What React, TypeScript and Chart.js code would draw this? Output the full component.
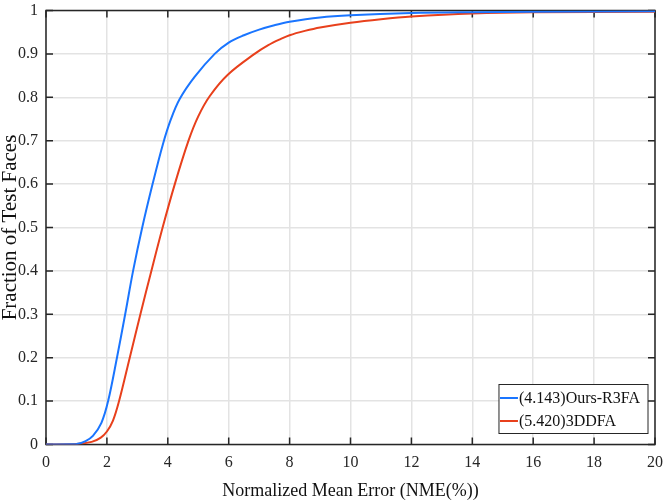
import React, { useEffect, useRef } from "react";
import { Chart, registerables } from "chart.js";

Chart.register(...registerables);

const seriesLabels = ["(4.143)Ours-R3FA", "(5.420)3DDFA"];
const seriesColors = ["#1a75ff", "#e8401c"];

const nmeOurs = [0, 1.0, 1.3, 1.54, 1.82, 2.04, 2.33, 2.6, 2.86, 3.16, 3.5, 3.84, 4.1, 4.39, 4.88, 5.54, 6.0, 6.5, 7.0, 7.5, 8.0, 9.0, 10.0, 12.0, 14.0, 16.0, 20.0];
const fracOurs = [0, 0.001, 0.008, 0.02, 0.05, 0.1, 0.2, 0.3, 0.4, 0.5, 0.6, 0.692, 0.749, 0.796, 0.847, 0.9, 0.926, 0.943, 0.956, 0.966, 0.974, 0.984, 0.989, 0.994, 0.996, 0.997, 0.998];

const nme3ddfa = [0, 1.0, 1.5, 1.8, 2.0, 2.2, 2.4, 2.75, 3.1, 3.46, 3.83, 4.23, 4.68, 5.0, 5.38, 5.97, 6.85, 7.3, 7.7, 8.0, 8.5, 9.0, 10.0, 11.0, 12.0, 14.0, 16.0, 20.0];
const frac3ddfa = [0, 0.001, 0.006, 0.016, 0.03, 0.055, 0.1, 0.2, 0.3, 0.4, 0.5, 0.6, 0.7, 0.756, 0.803, 0.852, 0.9, 0.92, 0.934, 0.943, 0.953, 0.961, 0.972, 0.98, 0.986, 0.993, 0.996, 0.997];

const xTitle = "Normalized Mean Error (NME(%))";
const yTitle = "Fraction of Test Faces";

const FONT = "'Liberation Serif', 'Times New Roman', serif";

const framePlugin = {
  id: "frameTicks",
  beforeDatasetsDraw(chart: any) {
    const { ctx, chartArea } = chart;
    const xs = chart.scales.x;
    const ys = chart.scales.y;
    ctx.save();
    ctx.strokeStyle = "#262626";
    ctx.lineWidth = 1.5;
    ctx.strokeRect(chartArea.left, chartArea.top, chartArea.right - chartArea.left, chartArea.bottom - chartArea.top);
    const tl = 7;
    ctx.beginPath();
    xs.ticks.forEach((t: any) => {
      const px = xs.getPixelForValue(t.value);
      ctx.moveTo(px, chartArea.bottom);
      ctx.lineTo(px, chartArea.bottom - tl);
      ctx.moveTo(px, chartArea.top);
      ctx.lineTo(px, chartArea.top + tl);
    });
    ys.ticks.forEach((t: any) => {
      const py = ys.getPixelForValue(t.value);
      ctx.moveTo(chartArea.left, py);
      ctx.lineTo(chartArea.left + tl, py);
      ctx.moveTo(chartArea.right, py);
      ctx.lineTo(chartArea.right - tl, py);
    });
    ctx.stroke();
    ctx.restore();
  },
  afterDraw(chart: any) {
    const { ctx, chartArea } = chart;
    ctx.save();
    ctx.font = `16px ${FONT}`;
    const labels = chart.data.datasets.map((d: any) => d.label);
    const textW = Math.max(...labels.map((l: string) => ctx.measureText(l).width));
    const sample = 18;
    const w = 2 + sample + 2 + textW + 6;
    const rowH = 23;
    const h = labels.length * rowH + 3;
    const right = chartArea.right - 7;
    const bottom = chartArea.bottom - 11;
    const left = right - w;
    const top = bottom - h;
    ctx.fillStyle = "#ffffff";
    ctx.fillRect(left, top, w, h);
    ctx.strokeStyle = "#262626";
    ctx.lineWidth = 1;
    ctx.strokeRect(left, top, w, h);
    chart.data.datasets.forEach((d: any, i: number) => {
      const cy = top + 2 + rowH / 2 + i * rowH;
      ctx.strokeStyle = d.borderColor;
      ctx.lineWidth = 2;
      ctx.beginPath();
      ctx.moveTo(left + 1, cy);
      ctx.lineTo(left + 1 + sample, cy);
      ctx.stroke();
      ctx.fillStyle = "#111111";
      ctx.textBaseline = "middle";
      ctx.textAlign = "left";
      ctx.fillText(d.label, left + 2 + sample, cy + 1);
    });
    ctx.restore();
  },
};

export default function App() {
  const canvasRef = useRef<HTMLCanvasElement | null>(null);

  useEffect(() => {
    document.body.style.margin = "0";
    const canvas = canvasRef.current;
    if (!canvas) return;
    const mk = (xs: number[], ys: number[]) => xs.map((x, i) => ({ x, y: ys[i] }));
    const chart = new Chart(canvas, {
      type: "scatter",
      data: {
        datasets: [
          {
            label: seriesLabels[0],
            data: mk(nmeOurs, fracOurs),
            borderColor: seriesColors[0],
            backgroundColor: seriesColors[0],
            showLine: true,
            pointRadius: 0,
            borderWidth: 2,
            tension: 0.35,
          },
          {
            label: seriesLabels[1],
            data: mk(nme3ddfa, frac3ddfa),
            borderColor: seriesColors[1],
            backgroundColor: seriesColors[1],
            showLine: true,
            pointRadius: 0,
            borderWidth: 2,
            tension: 0.35,
          },
        ],
      },
      options: {
        responsive: false,
        animation: false,
        layout: { padding: { top: 10.5, right: 8, left: 0, bottom: 0 } },
        plugins: {
          legend: { display: false },
          tooltip: { enabled: false },
        },
        scales: {
          x: {
            type: "linear",
            min: 0,
            max: 20,
            ticks: {
              stepSize: 2,
              color: "#262626",
              font: { family: FONT, size: 16 },
              padding: 9,
              maxRotation: 0,
            },
            grid: { color: "#e3e3e3", lineWidth: 1.5, drawTicks: false },
            border: { display: false },
            title: {
              display: true,
              text: xTitle,
              color: "#111111",
              font: { family: FONT, size: 18, lineHeight: 1 },
              padding: { top: 0, bottom: 0 },
            },
            afterFit: (s: any) => {
              s.height = 55.5;
              s.paddingLeft = 0;
              s.paddingRight = 0;
            },
          },
          y: {
            type: "linear",
            min: 0,
            max: 1,
            ticks: {
              stepSize: 0.1,
              color: "#262626",
              font: { family: FONT, size: 16 },
              padding: 8,
              callback: (v: any) => String(Number(Number(v).toFixed(1))),
            },
            grid: { color: "#e3e3e3", lineWidth: 1.5, drawTicks: false },
            border: { display: false },
            title: {
              display: true,
              text: yTitle,
              color: "#111111",
              font: { family: FONT, size: 21, lineHeight: 1 },
              padding: { top: 0, bottom: 0 },
            },
            afterFit: (s: any) => {
              s.width = 46;
              s.paddingTop = 0;
              s.paddingBottom = 0;
            },
          },
        },
      },
      plugins: [framePlugin],
    } as any);
    return () => chart.destroy();
  }, []);

  return (
    <div style={{ position: "fixed", left: 0, top: 0, width: 663, height: 500, background: "#fff" }}>
      <canvas ref={canvasRef} width={663} height={500} />
    </div>
  );
}
